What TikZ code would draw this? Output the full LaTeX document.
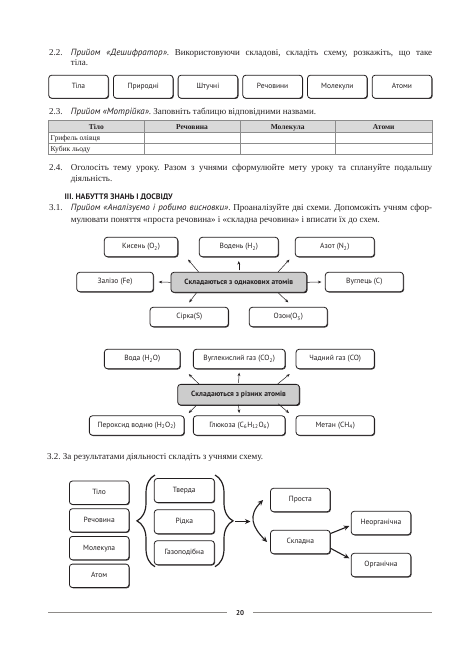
\documentclass[tikz,border=0pt]{standalone}
\usepackage{fontspec}
\setmainfont{Liberation Serif}
\setsansfont{PT Sans}
\usetikzlibrary{positioning,shadows,arrows.meta,decorations.pathreplacing}
\definecolor{ink}{HTML}{231F20}
\definecolor{rulegray}{HTML}{8E8B88}
\tikzset{box/.style={draw=ink, rounded corners=3pt, line width=0.8pt, fill=white,
		drop shadow={shadow xshift=0.8pt, shadow yshift=-0.8pt, fill=ink, opacity=0.85},
		inner sep=1pt, text height=5.6pt, text depth=1.7pt, text=ink,
		font=\sffamily\fontsize{7.5}{9}\selectfont},
	gbox/.style={box, fill=black!20, font=\sffamily\bfseries\fontsize{7.5}{9}\selectfont},
	rowbox/.style={box, minimum width=59.6pt, minimum height=23pt},
	smbox/.style={box, minimum height=19.4pt},
	bigbox/.style={box, minimum width=59.6pt, minimum height=23.4pt},
	arr/.style={-{Stealth[length=3.5pt,width=2.8pt]}, ink, line width=0.5pt},
	bigarr/.style={-{Stealth[length=5.5pt,width=5pt]}, ink, line width=1.1pt},
	curly/.style={decorate, decoration={brace, amplitude=18pt}, ink, line width=1.2pt},
	txt/.style={anchor=base west, inner sep=0pt, text=ink, font=\frenchspacing\fontsize{9}{11}\selectfont},
	cell/.style={anchor=base, inner sep=0pt, text=ink, font=\fontsize{7.5}{9}\selectfont}}
\newcommand{\jline}[1]{\makebox[361.3pt][s]{#1}}
\newcommand{\priyom}[1]{{\sffamily\itshape #1}}

\begin{document}
\begin{tikzpicture}[x=1pt,y=-1pt]
	\fill[white] (0,0) rectangle (469,650);
	\useasboundingbox (0,0) rectangle (469,650);
	% 2.2
	\node[txt] (n22) at (49,55.5) {2.2.};
	\node[txt] (t22a) at (70.7,55.5) {\jline{\priyom{Прийом «Дешифратор»}. Використовуючи складові, складіть схему, розкажіть, що таке}};
	\node[txt] (t22b) at (70.7,66) {тіла.};
	\node[rowbox] (r1) at (78.5,86.7) {Тіла};
	\node[rowbox] (r2) at (143.2,86.7) {Природні};
	\node[rowbox] (r3) at (207.9,86.7) {Штучні};
	\node[rowbox] (r4) at (272.6,86.7) {Речовини};
	\node[rowbox] (r5) at (337.3,86.7) {Молекули};
	\node[rowbox] (r6) at (402,86.7) {Атоми};
	% 2.3
	\node[txt] (n23) at (49,114) {2.3.};
	\node[txt] (t23) at (70.7,114) {\priyom{Прийом «Мотрійка»}. Заповніть таблицю відповідними назвами.};
	\fill[black!15] (48.7,120.7) rectangle (432,132);
	\draw[black!45, line width=0.5pt] (48.7,120.7) rectangle (432,154.5)
		(48.7,132) -- (432,132) (48.7,143.3) -- (432,143.3)
		(144,120.7) -- (144,154.5) (240,120.7) -- (240,154.5) (335.5,120.7) -- (335.5,154.5);
	\node[cell, font=\bfseries\fontsize{7.5}{9}\selectfont] (h1) at (96.3,129) {Тіло};
	\node[cell, font=\bfseries\fontsize{7.5}{9}\selectfont] (h2) at (192,129) {Речовина};
	\node[cell, font=\bfseries\fontsize{7.5}{9}\selectfont] (h3) at (287.7,129) {Молекула};
	\node[cell, font=\bfseries\fontsize{7.5}{9}\selectfont] (h4) at (383.7,129) {Атоми};
	\node[cell, anchor=base west] (c11) at (50.5,140.5) {Грифель олівця};
	\node[cell, anchor=base west] (c21) at (50.5,151.6) {Кубик льоду};
	% 2.4
	\node[txt] (n24) at (49,170.5) {2.4.};
	\node[txt] (t24a) at (70.7,170.5) {\jline{Оголосіть тему уроку. Разом з учнями сформулюйте мету уроку та сплануйте подальшу}};
	\node[txt] (t24b) at (70.7,181.3) {діяльність.};
	% III
	\node[txt, font=\sffamily\bfseries\fontsize{8}{10}\selectfont] (h3s) at (64.5,199.5) {III. НАБУТТЯ ЗНАНЬ І ДОСВІДУ};
	% 3.1
	\node[txt] (n31) at (49,210.5) {3.1.};
	\node[txt] (t31a) at (70.7,210.5) {\jline{\priyom{Прийом «Аналізуємо і робимо висновки»}. Проаналізуйте дві схеми. Допоможіть учням сфор-}};
	\node[txt] (t31b) at (70.7,222) {мулювати поняття «проста речовина» і «складна речовина» і вписати їх до схем.};

	\node[smbox, minimum width=73.4pt] (kys) at (141,247) {Кисень (O\textsubscript{2})};
	\node[smbox, minimum width=79pt] (vod) at (238.8,247) {Водень (H\textsubscript{2})};
	\node[smbox, minimum width=79pt] (azot) at (334.8,247) {Азот (N\textsubscript{2})};
	\node[smbox, minimum width=76.6pt] (zal) at (115,282) {Залізо (Fe)};
	\node[smbox, gbox, minimum width=135.7pt, minimum height=20pt] (c1) at (238.8,282.3) {Складаються з однакових атомів};
	\node[smbox, minimum width=78pt] (vug) at (364.3,282) {Вуглець (C)};
	\node[smbox, minimum width=78.3pt] (sirka) at (189.2,317) {Сірка(S)};
	\node[smbox, minimum width=78pt] (ozon) at (288.3,317) {Озон(O\textsubscript{3})};
	\draw[arr] ([xshift=28pt]c1.north west) -- ([xshift=10pt,yshift=-2.5pt]kys.south east);
	\draw[arr] ([yshift=1.5pt]c1.north) -- ([yshift=-4pt]vod.south);
	\draw[arr] ([xshift=-29pt]c1.north east) -- ([xshift=-5.5pt,yshift=-2.5pt]azot.south west);
	\draw[arr] (c1.west) -- ([xshift=5pt]zal.east);
	\draw[arr] (c1.east) -- ([xshift=-3.5pt]vug.west);
	\draw[arr] ([xshift=26pt]c1.south west) -- ([yshift=4.5pt]sirka.north);
	\draw[arr] ([xshift=-29pt]c1.south east) -- ([yshift=4.5pt]ozon.north);

	\node[smbox, minimum width=75.7pt] (voda) at (142.2,359) {Вода (H\textsubscript{2}O)};
	\node[smbox, minimum width=91.7pt] (co2) at (239.2,359) {Вуглекислий газ (CO\textsubscript{2})};
	\node[smbox, minimum width=78.3pt] (co) at (335.2,359) {Чадний газ (CO)};
	\node[smbox, gbox, minimum width=121.6pt, minimum height=20.7pt] (c2) at (238.5,394.7) {Складаються з різних атомів};
	\node[smbox, minimum width=94.7pt] (per) at (136.7,425.5) {Пероксид водню (H\textsubscript{2}O\textsubscript{2})};
	\node[smbox, minimum width=91.7pt] (glu) at (239.2,425.5) {Глюкоза (C\textsubscript{6}H\textsubscript{12}O\textsubscript{6})};
	\node[smbox, minimum width=78.3pt] (met) at (335.2,425.5) {Метан (CH\textsubscript{4})};
	\draw[arr] ([xshift=21.6pt]c2.north west) -- ([xshift=8.3pt,yshift=-5pt]voda.south east);
	\draw[arr] ([yshift=1pt]c2.north) -- ([yshift=-3.5pt]co2.south);
	\draw[arr] ([xshift=-22pt]c2.north east) -- ([xshift=-6pt,yshift=-5pt]co.south west);
	\draw[arr] ([xshift=19pt]c2.south west) -- ([xshift=4.3pt,yshift=2.4pt]per.north east);
	\draw[arr] ([yshift=0.7pt]c2.south) -- ([yshift=2.4pt]glu.north);
	\draw[arr] ([xshift=-21.6pt,yshift=1.7pt]c2.south east) -- ([xshift=-6.7pt,yshift=2.4pt]met.north west);
	% 3.2
	\node[txt] (t32) at (47,459) {3.2. За результатами діяльності складіть з учнями схему.};
	\node[bigbox] (l1) at (99.2,492.7) {Тіло};
	\node[bigbox] (l2) at (99.2,520.4) {Речовина};
	\node[bigbox] (l3) at (99.2,548.1) {Молекула};
	\node[bigbox] (l4) at (99.2,575.8) {Атом};
	\node[bigbox, minimum width=60pt, minimum height=24pt] (m1) at (184.3,490.5) {Тверда};
	\node[bigbox, minimum width=60pt, minimum height=24pt] (m2) at (184.3,521.7) {Рідка};
	\node[bigbox, minimum width=60pt, minimum height=24pt] (m3) at (184.3,552.7) {Газоподібна};
	\draw[curly] (155,566.7) -- (155,475);
	\draw[curly] (215,475) -- (215,566.7);
	\node[bigbox] (pr) at (300.3,500) {Проста};
	\node[bigbox] (sk) at (300.3,542) {Складна};
	\node[bigbox] (ne) at (381,523) {Неорганічна};
	\node[bigbox] (org) at (381,565) {Органічна};
	\coordinate (bt) at (235,521.5);
	\coordinate (am) at (250.5,521.5);
	\draw[bigarr] (bt) -- (am);
	\draw[bigarr, {Stealth[length=5.5pt,width=5pt]}-{Stealth[length=5.5pt,width=5pt]}] ([xshift=-7pt]pr.west) to[out=225,in=135,looseness=1.3] ([xshift=-3pt]sk.west);
	\draw[bigarr] ([yshift=8.5pt]sk.east) -- ([xshift=-1.5pt,yshift=-3pt]ne.west);
	\draw[bigarr] ([yshift=-6.3pt]sk.east) -- ([xshift=-1.5pt,yshift=6.7pt]org.west);
	% footer
	\node[inner sep=0pt, text=ink, font=\sffamily\bfseries\fontsize{7}{8}\selectfont] (pg) at (240,612.7) {20};
	\draw[rulegray, line width=1.3pt] (48.3,612.7) -- (226.7,612.7) (253.3,612.7) -- (431.7,612.7);
\end{tikzpicture}
\end{document}
